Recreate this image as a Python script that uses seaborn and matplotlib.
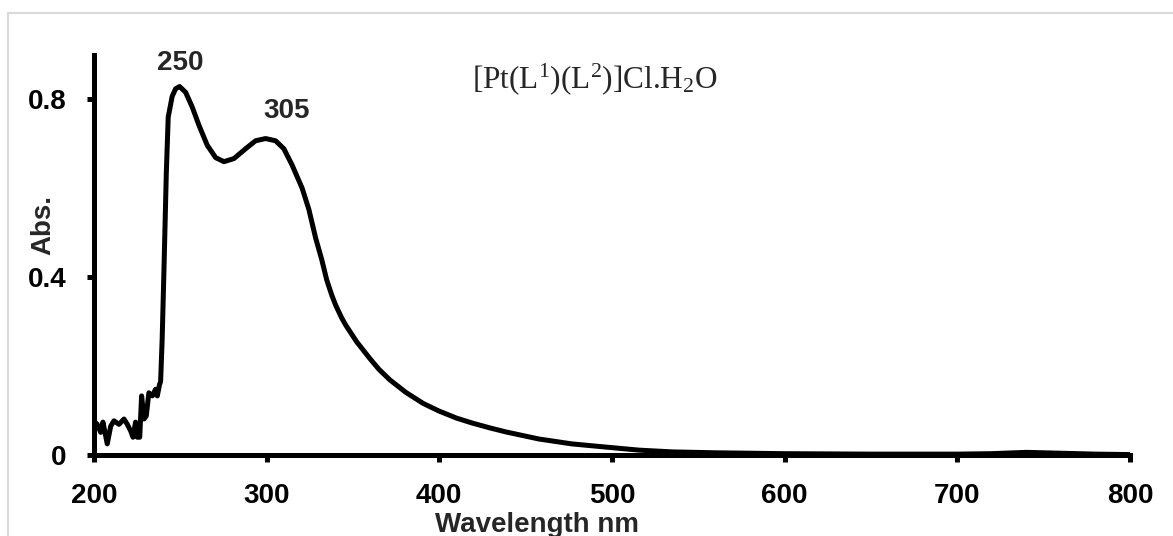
import numpy as np
import pandas as pd
import seaborn as sns
import matplotlib.pyplot as plt
from matplotlib.patches import Rectangle

# UV-Vis spectrum values
wavelength = [200.5, 201.9, 203.9, 205.2, 207.7, 209.7, 211.6, 214.5, 217.4, 219.3,
              221.3, 222.6, 224.1, 225.1, 226.5, 227.6, 229.0, 230.3, 231.8, 233.8,
              235.7, 236.7, 238.0, 238.6, 239.5, 240.5, 241.9, 243.0, 245.3, 247.3,
              249.6, 253.1, 256.9, 260.8, 265.6, 270.5, 275.3, 281.1, 287.8, 293.6,
              299.4, 305.2, 310.0, 314.8, 320.6, 324.5, 328.4, 331.9, 334.8, 337.7,
              340.0, 343.4, 345.7, 352.1, 359.8, 365.0, 371.4, 380.6, 390.7,
              399.8, 410.0, 419.0, 429.3, 438.5, 457.7, 476.8, 496.0, 515.6, 535.0,
              560.0, 600.0, 650.0, 700.0, 720.0, 740.0, 760.0, 780.0, 800.0]
absorbance = [0.074, 0.069, 0.051, 0.074, 0.025, 0.065, 0.077, 0.069, 0.081, 0.069,
              0.054, 0.040, 0.074, 0.040, 0.040, 0.133, 0.081, 0.088, 0.140, 0.133,
              0.148, 0.133, 0.159, 0.165, 0.260, 0.410, 0.634, 0.760, 0.807, 0.824,
              0.829, 0.816, 0.783, 0.742, 0.697, 0.669, 0.660, 0.667, 0.689, 0.707,
              0.712, 0.707, 0.689, 0.652, 0.600, 0.552, 0.488, 0.440, 0.394, 0.360,
              0.337, 0.309, 0.293, 0.255, 0.217, 0.193, 0.169, 0.141, 0.116,
              0.099, 0.083, 0.072, 0.061, 0.052, 0.036, 0.025, 0.018, 0.011, 0.007,
              0.005, 0.003, 0.002, 0.002, 0.003, 0.006, 0.004, 0.002, 0.001]

xticks = [200, 300, 400, 500, 600, 700, 800]
yticks = [0, 0.4, 0.8]
ytick_labels = ['0', '0.4', '0.8']

peaks = ['250', '305']
peak_pos = [(250.1, 0.883), (311.8, 0.773)]

df = pd.DataFrame({'Wavelength': wavelength, 'Abs': absorbance})

sns.set_style("ticks")
plt.rcParams['font.family'] = ['Liberation Sans', 'DejaVu Sans']
plt.rcParams['font.weight'] = 'bold'

fig = plt.figure(figsize=(11.73, 5.36), dpi=100)
ax = fig.add_axes([0.0801, 0.1511, 0.8832, 0.7463])

sns.lineplot(data=df, x='Wavelength', y='Abs', color='black', linewidth=3.6, ax=ax)
ax.lines[0].set_solid_joinstyle('round')

ax.set_xlim(200, 800)
ax.set_ylim(0, 0.9)
ax.set_xticks(xticks)
ax.set_yticks(yticks)
ax.set_yticklabels(ytick_labels)
sns.despine(ax=ax)
for side in ['left', 'bottom']:
    ax.spines[side].set_linewidth(3.6)
    ax.spines[side].set_color('black')
ax.tick_params(axis='both', width=3.6, length=5, labelsize=20, colors='black')
ax.tick_params(axis='x', pad=15)
ax.tick_params(axis='y', pad=15)
for lab in ax.get_xticklabels() + ax.get_yticklabels():
    lab.set_fontweight('bold')

ax.set_xlabel('Wavelength nm', fontsize=20, fontweight='bold')
ax.xaxis.set_label_coords(0.428, -0.142)
ax.set_ylabel('Abs.', fontsize=20, fontweight='bold')
ax.yaxis.set_label_coords(-0.036, 0.574)

for lab, (px, py) in zip(peaks, peak_pos):
    ax.text(px, py, lab, ha='center', va='center', fontsize=20, fontweight='bold')

ax.text(418.9, 0.825, r'[Pt(L$\mathregular{^1}$)(L$\mathregular{^2}$)]Cl.H$\mathregular{_2}$O',
        family='Liberation Serif', fontweight='normal', fontsize=22.5,
        ha='left', va='baseline')

# light grey frame around the chart area
fig.add_artist(Rectangle((8 / 1173, -0.1), 1.2, 1 - 13 / 536 + 0.1,
                         transform=fig.transFigure, fill=False,
                         edgecolor='#d9d9d9', linewidth=1.5))

fig.savefig('out.png', dpi=100)
